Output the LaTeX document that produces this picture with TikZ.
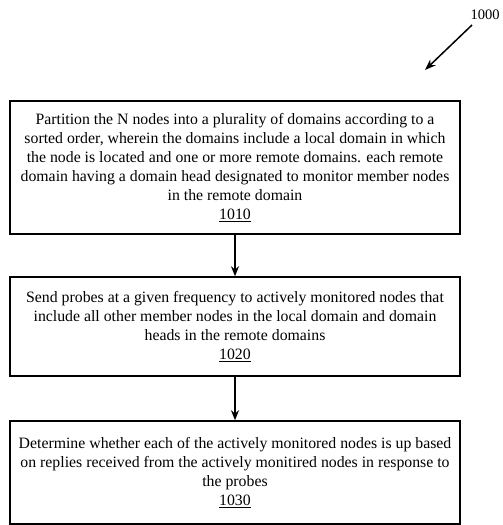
\documentclass[tikz,border=0pt]{standalone}
\usepackage{fontspec}
\setmainfont{Liberation Serif}
\usetikzlibrary{arrows.meta}
\begin{document}
\begin{tikzpicture}[x=1pt,y=1pt,
  stepbox/.style={draw,line width=1.5pt,minimum width=450pt,align=center,
    font=\fontsize{15.8}{19}\selectfont,inner sep=0pt},
  flow/.style={line width=1.5pt,-{Stealth[length=10pt,width=8pt]}}]
\useasboundingbox (0,0) rectangle (503,-525);
\node[stepbox,minimum height=133pt] (b1) at (235,-167.5) {Partition the N nodes into a plurality of domains according to a\\
sorted order, wherein the domains include a local domain in which\\
the node is located and one or more remote domains. each remote\\
domain having a domain head designated to monitor member nodes\\
in the remote domain\\
\underline{1010}};
\node[stepbox,minimum height=99pt] (b2) at (235,-326.5) {Send probes at a given frequency to actively monitored nodes that\\
include all other member nodes in the local domain and domain\\
heads in the remote domains\\
\underline{1020}};
\node[stepbox,minimum height=103pt] (b3) at (235,-472.5) {Determine whether each of the actively monitored nodes is up based\\
on replies received from the actively monitired nodes in response to\\
the probes\\
\underline{1030}};
\draw[flow] (b1) -- (b2);
\draw[flow] (b2) -- (b3);
\node[font=\fontsize{14.5}{16}\selectfont,inner sep=0pt] (lbl) at (485,-15) {1000};
\coordinate (tip) at (425,-70);
\draw[line width=1.5pt,-{Stealth[length=11pt,width=8pt]}] (472,-25) -- (tip);
\end{tikzpicture}
\end{document}
